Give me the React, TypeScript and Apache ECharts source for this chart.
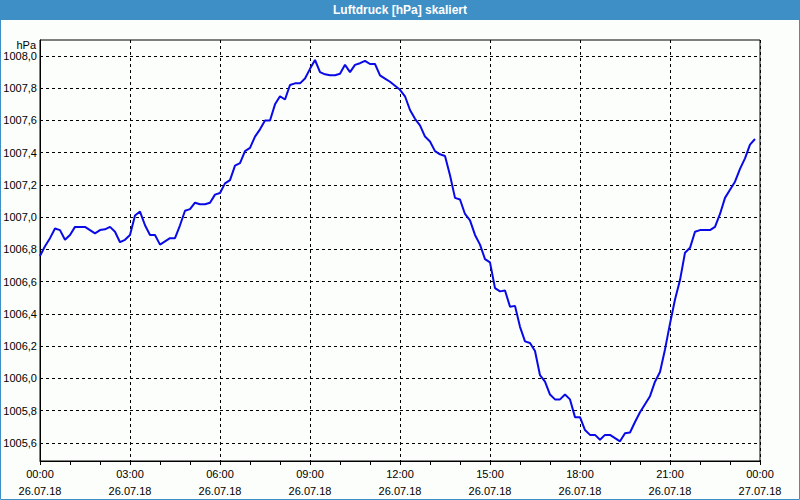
import { useEffect, useRef } from 'react';
import * as echarts from 'echarts';

const chartTitle = 'Luftdruck [hPa] skaliert';
const unitLabel = 'hPa';

// samples every 10 minutes starting at 26.07.18 00:00
const sampleStepMinutes = 10;
const pressure = [
  1006.76, 1006.82, 1006.87, 1006.93, 1006.92, 1006.86, 1006.89, 1006.94, 1006.94, 1006.94,
  1006.92, 1006.90, 1006.92, 1006.925, 1006.94, 1006.91, 1006.845, 1006.86, 1006.89, 1007.01,
  1007.035, 1006.95, 1006.89, 1006.89, 1006.83, 1006.85, 1006.87, 1006.87, 1006.95, 1007.04,
  1007.05, 1007.09, 1007.08, 1007.08, 1007.09, 1007.14, 1007.15, 1007.21, 1007.23, 1007.32,
  1007.335, 1007.41, 1007.43, 1007.50, 1007.545, 1007.60, 1007.60, 1007.70, 1007.75, 1007.73,
  1007.82, 1007.83, 1007.83, 1007.86, 1007.92, 1007.975, 1007.90, 1007.886, 1007.88, 1007.88,
  1007.89, 1007.945, 1007.90, 1007.945, 1007.955, 1007.97, 1007.95, 1007.95, 1007.88, 1007.86,
  1007.84, 1007.815, 1007.79, 1007.75, 1007.665, 1007.61, 1007.57, 1007.50, 1007.47, 1007.41,
  1007.39, 1007.38, 1007.26, 1007.12, 1007.11, 1007.02, 1006.98, 1006.89, 1006.83, 1006.74,
  1006.72, 1006.56, 1006.54, 1006.545, 1006.445, 1006.45, 1006.32, 1006.23, 1006.22, 1006.17,
  1006.02, 1005.98, 1005.90, 1005.87, 1005.87, 1005.90, 1005.87, 1005.76, 1005.76, 1005.68,
  1005.65, 1005.65, 1005.62, 1005.65, 1005.65, 1005.63, 1005.61, 1005.66, 1005.665, 1005.73,
  1005.79, 1005.84, 1005.89, 1005.98, 1006.04, 1006.18, 1006.34, 1006.49, 1006.61, 1006.78,
  1006.81, 1006.91, 1006.92, 1006.92, 1006.92, 1006.94, 1007.02, 1007.12, 1007.17, 1007.22,
  1007.30, 1007.365, 1007.45, 1007.485,
];

const yTickValues = [1005.6, 1005.8, 1006.0, 1006.2, 1006.4, 1006.6, 1006.8, 1007.0, 1007.2, 1007.4, 1007.6, 1007.8, 1008.0];
const xTickHours = [0, 3, 6, 9, 12, 15, 18, 21, 24];
const xTickTimes = ['00:00', '03:00', '06:00', '09:00', '12:00', '15:00', '18:00', '21:00', '00:00'];
const xTickDates = ['26.07.18', '26.07.18', '26.07.18', '26.07.18', '26.07.18', '26.07.18', '26.07.18', '26.07.18', '27.07.18'];

const FONT = "'Liberation Sans', Arial, sans-serif";

export default function App() {
  const ref = useRef<HTMLDivElement>(null);
  useEffect(() => {
    if (!ref.current) return;
    const chart = echarts.init(ref.current, undefined, { renderer: 'svg' });
    const data = pressure.map((v, i) => [(i * sampleStepMinutes) / 60, v]);
    chart.setOption({
      animation: false,
      backgroundColor: '#fbfefb',
      textStyle: { fontFamily: FONT },
      title: {
        text: chartTitle,
        left: 'center',
        top: 3,
        padding: 0,
        textStyle: { color: '#ffffff', fontSize: 12, fontWeight: 'bold', fontFamily: FONT, lineHeight: 14 },
      },
      graphic: [
        { type: 'rect', z: -1, shape: { x: 0, y: 0, width: 800, height: 20 }, style: { fill: '#3d8fc6' } },
        { type: 'rect', z: -1, shape: { x: 0.5, y: 0.5, width: 799, height: 499 }, style: { fill: 'none', stroke: '#3d8fc6', lineWidth: 1 } },
      ],
      grid: { left: 40, right: 40, top: 40, bottom: 39, show: true, borderColor: '#000', borderWidth: 1, backgroundColor: 'transparent' },
      xAxis: {
        type: 'value',
        min: 0,
        max: 24,
        interval: 3,
        axisLine: { show: true, lineStyle: { color: '#000', width: 1 } },
        axisTick: { show: true, length: 4, lineStyle: { color: '#000' } },
        minorTick: { show: true, splitNumber: 3, length: 4, lineStyle: { color: '#000' } },
        splitLine: { show: true, lineStyle: { color: '#000', type: [3, 3], width: 1 } },
        axisLabel: {
          color: '#000',
          fontSize: 11,
          fontFamily: FONT,
          lineHeight: 17,
          margin: 4,
          showMinLabel: true,
          showMaxLabel: true,
          formatter: (v: number) => {
            const i = xTickHours.indexOf(Math.round(v));
            return i >= 0 ? `${xTickTimes[i]}\n${xTickDates[i]}` : '';
          },
        },
      },
      yAxis: {
        type: 'value',
        min: 1005.488,
        max: 1008.099,
        name: unitLabel,
        nameLocation: 'end',
        nameGap: -6,
        nameTextStyle: { color: '#000', fontSize: 11, fontFamily: FONT, align: 'right', verticalAlign: 'middle', padding: [0, 4, 0, 0] },
        axisLine: { show: true, lineStyle: { color: '#000', width: 1 } },
        axisTick: { show: false, customValues: yTickValues },
        splitLine: { show: true, lineStyle: { color: '#000', type: [3, 3], width: 1 } },
        axisLabel: {
          customValues: yTickValues,
          color: '#000',
          fontSize: 11,
          fontFamily: FONT,
          margin: 3,
          formatter: (v: number) => v.toFixed(1).replace('.', ','),
        },
      },
      series: [
        {
          type: 'line',
          data,
          showSymbol: false,
          symbol: 'none',
          lineStyle: { color: '#0a0ae6', width: 2 },
          z: 3,
        },
      ],
    });
    return () => chart.dispose();
  }, []);
  return <div ref={ref} style={{ position: 'absolute', left: 0, top: 0, width: 800, height: 500 }} />;
}
